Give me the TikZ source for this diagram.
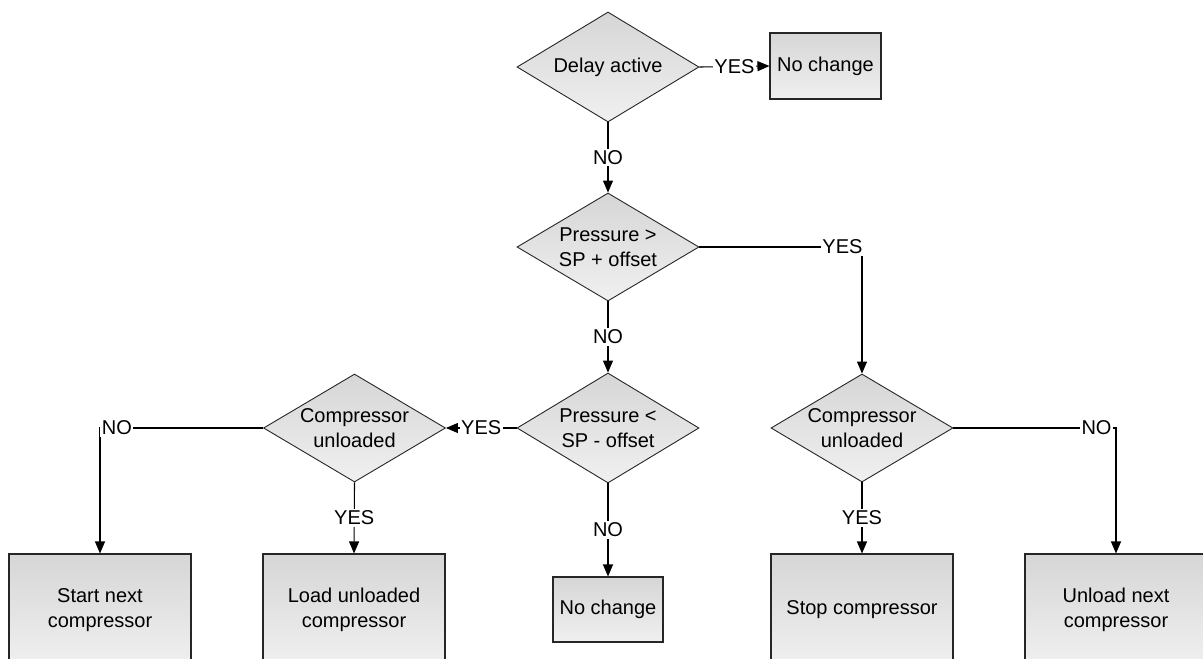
\documentclass[tikz,border=0pt]{standalone}
\usepackage{fontspec}
\setmainfont{Liberation Sans}
\usetikzlibrary{shapes.geometric,arrows.meta}
\definecolor{shadetop}{HTML}{D6D6D6}
\definecolor{shadebot}{HTML}{F0F0F0}
\definecolor{edgegray}{HTML}{262626}
\begin{document}
\begin{tikzpicture}[x=1pt,y=-1pt,
  every node/.style={font=\fontsize{20}{25}\selectfont, align=center},
  decision/.style={shape=diamond, shape aspect=1.68, draw=edgegray, line width=0.9pt,
    top color=shadetop, bottom color=shadebot, inner sep=0pt,
    minimum width=182pt, minimum height=108pt},
  actionbox/.style={shape=rectangle, draw=edgegray, line width=1.1pt,
    top color=shadetop, bottom color=shadebot, inner sep=0pt},
  flow/.style={draw=black, line width=1.1pt, -{Triangle[length=12pt,width=10pt]}},
  tag/.style={fill=white, inner sep=1.5pt}]
\clip (0,0) rectangle (1203,659);
\fill[white] (0,0) rectangle (1203,659);

% decisions
\node[decision, minimum height=110pt] (delay) at (608,67) {Delay active};
\node[decision] (high) at (608,247) {Pressure >\\SP + offset};
\node[decision, minimum height=110pt] (low) at (608,428) {Pressure <\\SP - offset};
\node[decision] (unlR) at (862,428) {Compressor\\unloaded};
\node[decision] (unlL) at (354.5,428) {Compressor\\unloaded};

% actions
\node[actionbox, minimum width=111pt, minimum height=66pt] (keep1) at (825.5,66) {No change};
\node[actionbox, minimum width=110pt, minimum height=65pt] (keep2) at (608,609.5) {No change};
\node[actionbox, minimum width=182pt, minimum height=112pt] (start) at (100,610) {Start next\\compressor};
\node[actionbox, minimum width=182pt, minimum height=112pt] (load) at (354,610) {Load unloaded\\compressor};
\node[actionbox, minimum width=182pt, minimum height=112pt] (stop) at (862,610) {Stop compressor};
\node[actionbox, minimum width=182pt, minimum height=112pt] (unload) at (1116,610) {Unload next\\compressor};

% connectors
\draw[flow] (delay.east) -- node[tag] {YES} (keep1.west);
\draw[flow] (delay.south) -- node[tag] {NO} (high.north);
\draw[flow] (high.south) -- node[tag] {NO} (low.north);
\draw[flow] (high.east) -| node[tag, pos=0.44] {YES} (unlR.north);
\draw[flow] (low.west) -- node[tag] {YES} (unlL.east);
\draw[flow] (low.south) -- node[tag] {NO} (keep2.north);
\draw[flow] (unlL.west) -| node[tag, pos=0.448] {NO} (start.north);
\draw[flow] (unlL.south) -- node[tag] {YES} (load.north);
\draw[flow] (unlR.south) -- node[tag] {YES} (stop.north);
\draw[flow] (unlR.east) -| node[tag, pos=0.44] {NO} (unload.north);
\end{tikzpicture}
\end{document}
